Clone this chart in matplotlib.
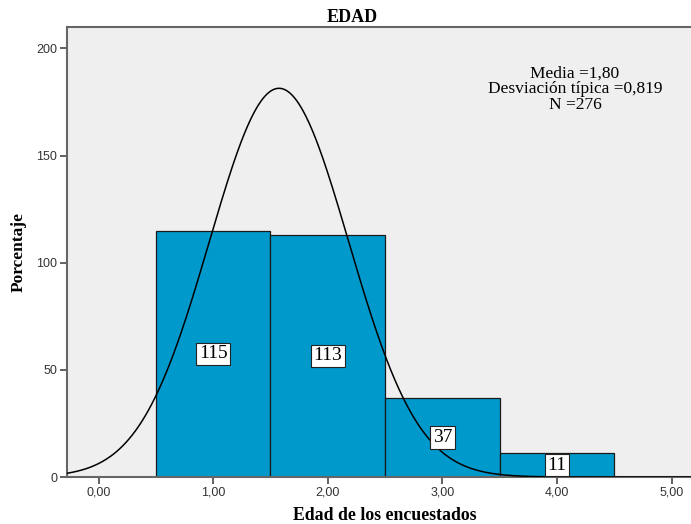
import numpy as np
import matplotlib
matplotlib.use("Agg")
import matplotlib.pyplot as plt

# Data
bin_centers = [1.0, 2.0, 3.0, 4.0]
counts = [115, 113, 37, 11]
bar_labels = ["115", "113", "37", "11"]
x_ticks = [0, 1, 2, 3, 4, 5]
x_tick_labels = ["0,00", "1,00", "2,00", "3,00", "4,00", "5,00"]
y_ticks = [0, 50, 100, 150, 200]
stats_text = ["Media =1,80", "Desviación típica =0,819", "N =276"]
# normal curve as drawn in the reference
curve_mean = 1.575
curve_sd = 0.607
curve_n = 276

serif = ["Liberation Serif", "DejaVu Serif"]
sans = ["Liberation Sans", "DejaVu Sans"]

fig = plt.figure(figsize=(6.91, 5.24), dpi=100)
ax = fig.add_axes([67/691, 47/524, 1 - 67/691, (477-27)/524])
ax.set_facecolor("#EFEFEF")

ax.bar(bin_centers, counts, width=1.0, color="#0099CC", edgecolor="#1a1a1a",
       linewidth=0.9, zorder=2)

xs = np.linspace(-0.3, 5.2, 600)
ys = curve_n * 1.0 / (curve_sd * np.sqrt(2 * np.pi)) * np.exp(-(xs - curve_mean) ** 2 / (2 * curve_sd ** 2))
ax.plot(xs, ys, color="black", linewidth=1.1, zorder=3)

for xc, c, lab in zip(bin_centers, counts, bar_labels):
    ax.text(xc, c / 2, lab, ha="center", va="center", fontsize=14, family=serif,
            zorder=4,
            bbox=dict(boxstyle="square,pad=0.14", facecolor="white",
                      edgecolor="#222222", linewidth=0.8))

ax.set_xlim(-0.275, 5.17)
ax.set_ylim(0, 210)
ax.set_xticks(x_ticks)
ax.set_xticklabels(x_tick_labels, family=sans, fontsize=9, color="#333333")
ax.set_yticks(y_ticks)
ax.set_yticklabels([str(v) for v in y_ticks], family=sans, fontsize=9, color="#333333")
ax.tick_params(direction="out", length=5, width=1.3, color="#555555", pad=2)

for s in ["left", "bottom", "top"]:
    ax.spines[s].set_color("#666666")
    ax.spines[s].set_linewidth(1.5)
ax.spines["right"].set_visible(False)

ax.text(0.814, 0.862, "\n".join(stats_text), transform=ax.transAxes,
        ha="center", va="center", fontsize=12.5, family=serif, linespacing=0.98)

fig.text(352/691, 1 - 17/524, "EDAD", ha="center", va="center",
         fontsize=13, fontweight="bold", family=serif)
fig.text(385/691, 1 - 516/524, "Edad de los encuestados", ha="center", va="center",
         fontsize=12.8, fontweight="bold", family=serif)
fig.text(19/691, 1 - 252/524, "Porcentaje", ha="center", va="center", rotation=90,
         fontsize=12.5, fontweight="bold", family=serif)

fig.savefig("out.png", dpi=100)
